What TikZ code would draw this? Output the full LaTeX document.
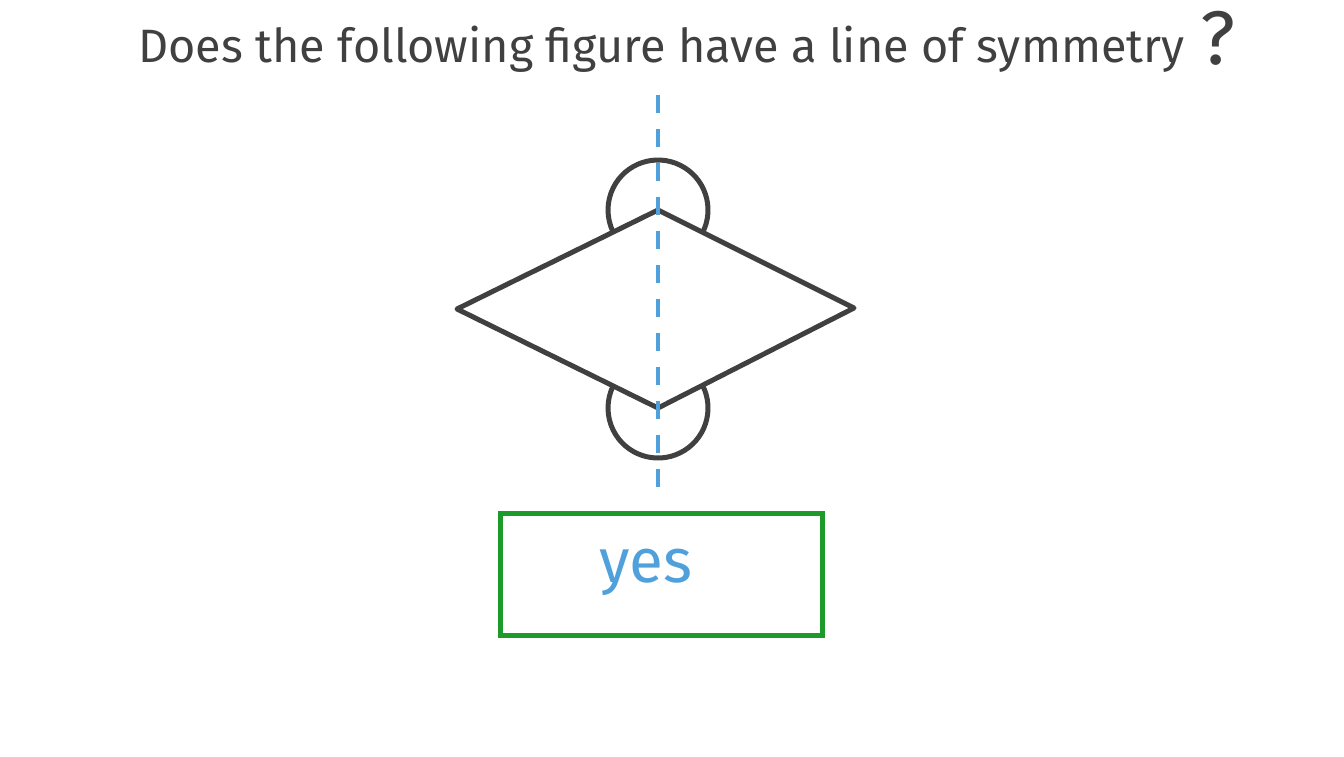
\documentclass[tikz,border=0pt]{standalone}
\usepackage{fontspec}
\setmainfont{Fira Sans}
\definecolor{ink}{RGB}{64,64,64}
\definecolor{lineblue}{RGB}{80,160,220}
\definecolor{boxgreen}{RGB}{28,154,42}
\tikzset{
  shape line/.style={draw=ink, line width=2.5pt, line join=round},
  mirror line/.style={draw=lineblue, line width=2.4pt, dash pattern=on 9pt off 8pt},
  answer box/.style={draw=boxgreen, line width=2.5pt, minimum width=161pt, minimum height=61pt},
  answer text/.style={text=lineblue, font=\fontsize{31}{36}\selectfont},
  title text/.style={text=ink, font=\fontsize{23.4}{28}\selectfont}
}
\begin{document}
\begin{tikzpicture}[x=0.5pt, y=-0.5pt]
\useasboundingbox (0,0) rectangle (1344,756);
\node[title text, anchor=base west, inner sep=0pt] (question) at (138,62) {Does the following figure have a line of symmetry};
\node[title text, anchor=base, inner sep=0pt, font=\fontsize{38}{44}\selectfont] (mark) at (1218,64) {?};
\coordinate (top) at (658,210);
\coordinate (right) at (854,308);
\coordinate (bottom) at (658,408);
\coordinate (left) at (457,309);
\draw[shape line] (top) -- (right) -- (bottom) -- (left) -- cycle;
\draw[shape line] ([shift={(26.57:50)}]top) arc[start angle=26.57, end angle=-206.57, radius=50];
\draw[shape line] ([shift={(-26.57:50)}]bottom) arc[start angle=-26.57, end angle=206.57, radius=50];
\coordinate (axis top) at (658,95);
\coordinate (axis end) at (658,500);
\draw[mirror line] (axis top) -- (axis end);
\node[answer box] (answer) at (661,574) {};
\node[answer text] (yes) at (646,572) {yes};
\end{tikzpicture}
\end{document}
